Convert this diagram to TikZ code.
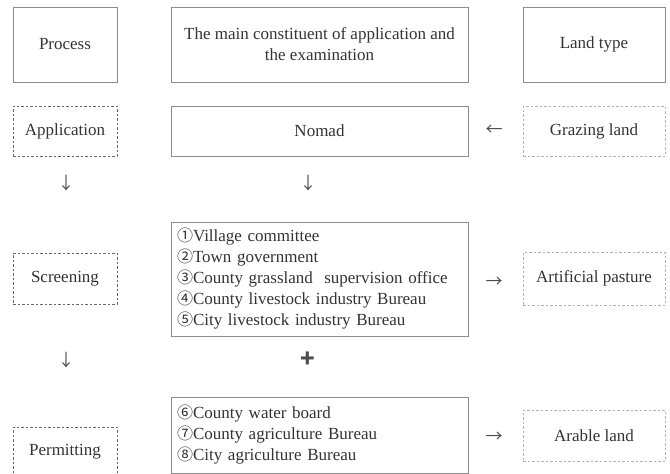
\documentclass[tikz,border=0pt]{standalone}
\usepackage{fontspec}
\setmainfont{Liberation Serif}
\newfontfamily\circfont{Noto Sans CJK SC}
\usepackage{tikz}
\usetikzlibrary{positioning}
\newcommand{\cnum}[1]{{\circfont\fontsize{16}{21}\selectfont #1}}

\begin{document}
\begin{tikzpicture}[
		x=1pt, y=-1pt,
		every node/.style={
			align=center,
			text=black!80,
			font=\fontsize{17}{21}\selectfont
		},
		box/.style={draw=black!45, line width=0.8pt},
		procbox/.style={draw=black!60, line width=0.8pt,
			dash pattern=on 2.5pt off 2pt, minimum width=104pt},
		landbox/.style={draw=black!30, line width=0.8pt,
			dash pattern=on 2.5pt off 2pt, minimum width=142pt},
		listbox/.style={box, minimum width=297pt, text width=285pt,
			align=left, inner sep=6pt},
		sym/.style={font=\circfont\fontsize{17}{17}\selectfont, text=black!70}
		]
		
		\useasboundingbox (0,0) rectangle (670,474);
		
		% header row
		\node[box, minimum width=104pt, minimum height=75pt]
		(proc) at (65,44.5) {Process};
		\node[box, minimum width=297pt, minimum height=75pt]
		(head) at (319.5,44.5)
		{The main constituent of application and\\ the examination};
		\node[box, minimum width=142pt, minimum height=75pt]
		(ltype) at (594,44.5) {Land type};
		
		% application
		\node[procbox, minimum height=50pt] (app) at (65,131) {Application};
		\node[box, minimum width=297pt, minimum height=50pt]
		(nomad) at (319.5,131) {Nomad};
		\node[landbox, minimum height=50pt] (graz) at (594,131) {Grazing land};
		\node[sym] (arrgraz) at (494,130) {←};
		
		\node[sym] (arrapp) at (66,183) {↓};
		\node[sym] (arrnomad) at (308,183) {↓};
		
		% screening
		\node[procbox, minimum height=51pt] (screen) at (65,278.5) {Screening};
		\node[listbox, minimum height=114pt] (list1) at (319.5,279)
		{\cnum{①}Village committee\\
			\cnum{②}Town government\\
			\cnum{③}County grassland~ supervision office\\
			\cnum{④}County livestock industry Bureau\\
			\cnum{⑤}City livestock industry Bureau};
		\node[landbox, minimum height=53pt] (past) at (594,278.5)
		{Artificial pasture};
		\node[sym] (arrpast) at (494,282) {→};
		
		\node[sym] (arrscreen) at (66,360) {↓};
		\node[sym, font=\circfont\bfseries\fontsize{24}{24}\selectfont]
		(plus) at (308,360) {+};
		
		% permitting
		\node[procbox, minimum height=50pt] (perm) at (65,452) {Permitting};
		\node[listbox, minimum height=76pt] (list2) at (319.5,435)
		{\cnum{⑥}County water board\\
			\cnum{⑦}County agriculture Bureau\\
			\cnum{⑧}City agriculture Bureau};
		\node[landbox, minimum height=51pt] (arable) at (594,435.5)
		{Arable land};
		\node[sym] (arrarable) at (494,437) {→};
		
	\end{tikzpicture}
\end{document}
